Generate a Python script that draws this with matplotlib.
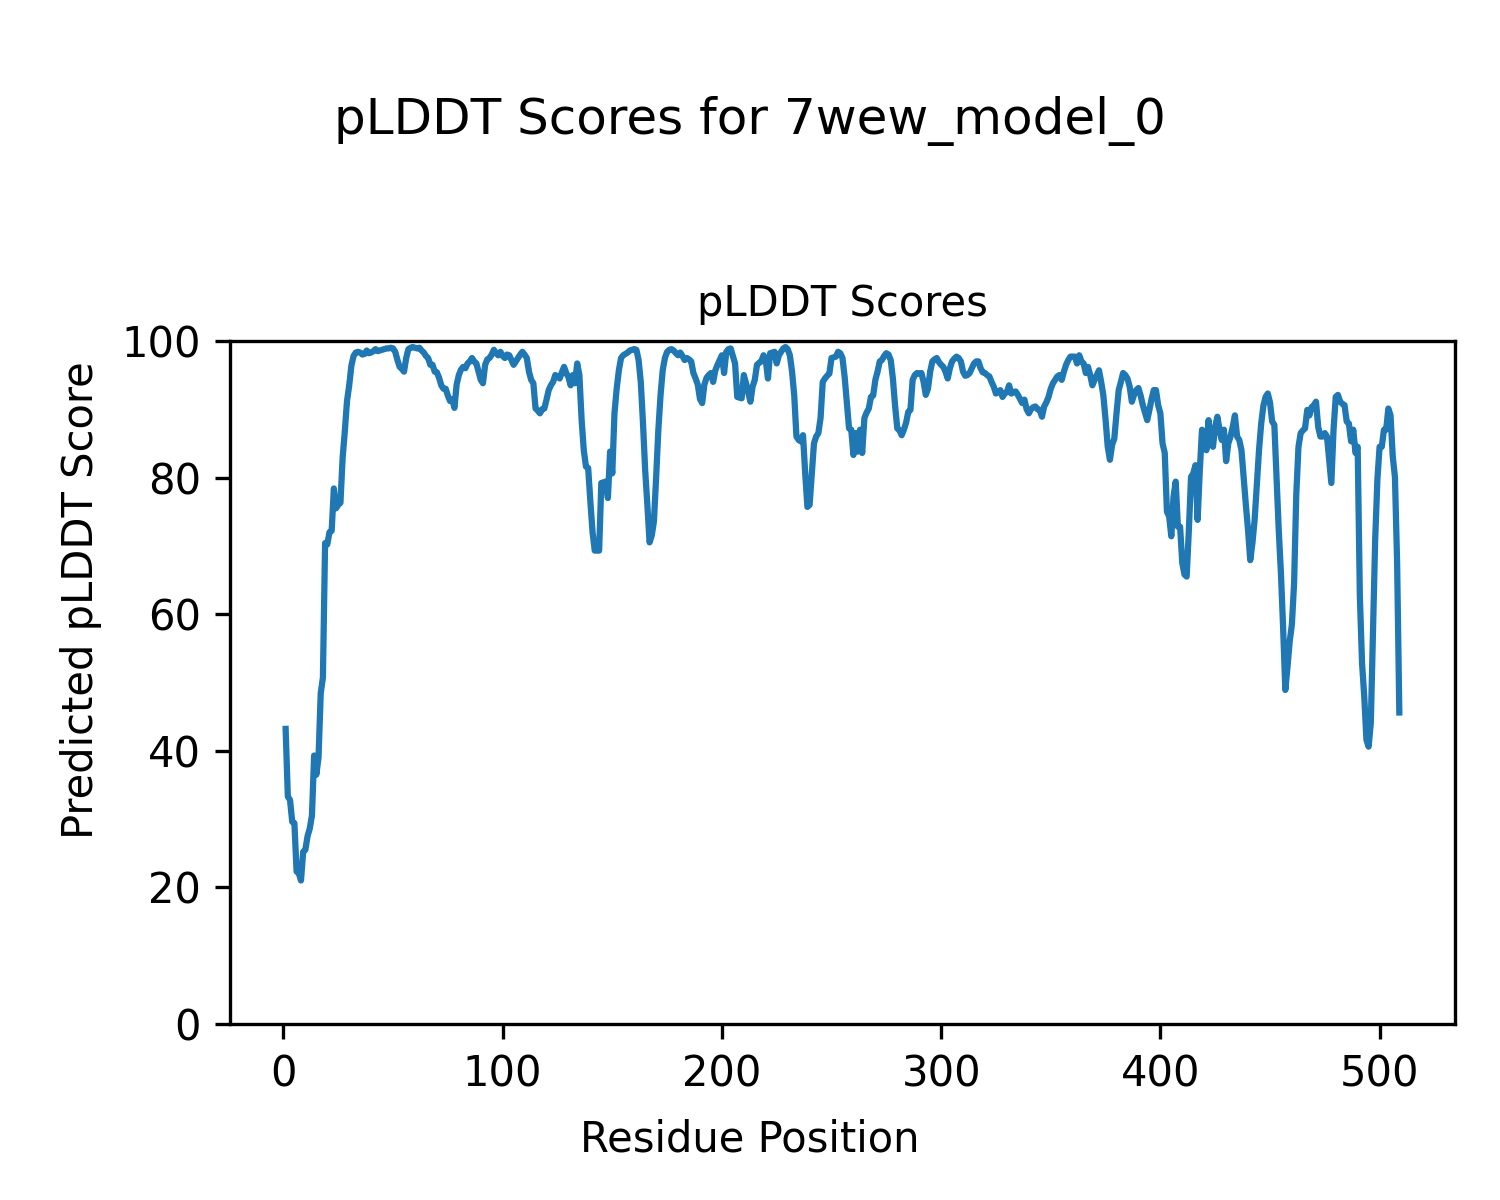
import numpy as np
import matplotlib
matplotlib.use('Agg')
import matplotlib.pyplot as plt

model_name = '7wew_model_0'

# per-residue pLDDT (residues 1..509)
plddt = [
    43.2, 33.3, 32.8, 29.6, 29.4, 22.3, 22.1, 21.0, 25.2, 25.5,
    27.5, 28.6, 30.5, 39.3, 36.5, 39.0, 48.4, 50.7, 70.4, 70.2,
    72.0, 72.2, 78.4, 75.5, 76.0, 76.3, 82.9, 86.8, 91.2, 93.5,
    96.4, 97.8, 98.3, 98.4, 98.3, 98.0, 98.1, 98.6, 98.2, 98.3,
    98.5, 98.8, 98.5, 98.6, 98.7, 98.8, 98.9, 98.9, 99.0,
    98.9, 98.4, 97.2, 96.2, 95.9, 95.5, 97.5, 98.8, 99.0, 99.1,
    99.0, 98.9, 99.0, 98.6, 98.3, 97.8, 97.5, 96.5, 96.5, 95.5,
    95.4, 94.6, 93.5, 93.0, 93.0, 92.0, 91.2, 91.5, 90.2, 93.6,
    95.0, 95.8, 96.2, 96.0, 96.7, 97.0, 97.5, 97.0, 96.7, 95.5,
    94.3, 93.8, 96.5, 97.3, 97.5, 98.0, 98.7, 98.2, 97.9, 98.4,
    97.8, 97.5, 98.0, 97.9, 97.2, 96.5, 97.0, 97.5, 98.0, 98.4,
    98.0, 97.5, 95.5, 94.3, 93.8, 90.1, 89.8, 89.4, 90.0, 90.1,
    91.4, 92.8, 93.5, 94.0, 95.0, 94.8, 94.5, 95.4, 96.2, 95.3,
    94.7, 93.5, 95.0, 93.8, 96.7, 95.0, 88.5, 84.0, 81.6, 81.4,
    76.5, 72.0, 69.3, 69.3, 69.3, 79.2, 79.3, 79.4, 77.0, 83.8,
    80.6, 89.4, 93.0, 95.7, 97.5, 97.9, 98.1, 98.3, 98.6, 98.7,
    98.8, 98.7, 97.2, 94.0, 88.0, 81.1, 76.0, 70.5, 71.5, 73.6,
    80.0, 86.9, 92.0, 95.7, 97.5, 98.4, 98.7, 98.8, 98.6, 98.2,
    97.9, 98.3, 97.8, 97.2, 97.5, 97.3, 97.0, 95.3, 94.5, 93.6,
    91.5, 90.9, 93.6, 94.6, 95.0, 95.3, 94.0, 95.7, 96.5, 97.2,
    97.9, 95.3, 98.4, 98.8, 98.9, 97.8, 96.7, 91.8, 91.7, 91.6,
    95.0, 93.8, 92.5, 91.1, 93.3, 94.3, 96.5, 96.8, 97.0, 97.9,
    97.2, 94.5, 98.2, 98.3, 98.4, 96.7, 97.9, 98.4, 98.9, 99.1,
    98.8, 97.9, 95.5, 92.0, 86.0, 85.5, 85.3, 86.2, 80.6, 75.7,
    76.0, 80.6, 85.0, 86.0, 86.5, 88.7, 94.0, 94.5, 94.9, 95.2,
    97.5, 97.6, 97.7, 98.4, 98.2, 97.5, 94.7, 91.0, 87.2, 87.0,
    83.3, 86.5, 83.8, 87.0, 83.6, 88.7, 89.5, 90.1, 91.8, 92.0,
    94.3, 95.5, 97.0, 97.2, 97.8, 98.2, 98.0, 97.2, 94.5, 90.5,
    87.2, 86.9, 86.2, 87.0, 88.0, 89.6, 89.9, 94.3, 95.0, 95.3,
    95.2, 95.3, 94.0, 92.1, 93.0, 95.5, 97.0, 97.3, 97.5, 96.9,
    96.5, 96.2, 95.5, 94.5, 96.0, 97.0, 97.4, 97.7, 97.5, 97.0,
    95.5, 94.9, 95.0, 95.3, 96.0, 96.7, 97.0, 97.0, 96.0, 95.4,
    95.3, 95.0, 94.8, 94.0, 93.3, 92.3, 92.5, 92.8, 91.8, 92.3,
    92.5, 93.5, 92.3, 92.5, 92.6, 92.1, 91.5, 90.9, 91.4, 90.0,
    89.4, 90.0, 90.3, 90.4, 90.0, 89.9, 88.9, 90.4, 91.0, 91.8,
    93.0, 93.8, 94.3, 94.8, 95.0, 94.3, 95.5, 96.5, 97.2, 97.7,
    97.7, 97.7, 96.7, 97.9, 97.0, 96.7, 95.3, 96.2, 95.0, 93.5,
    94.3, 95.0, 95.7, 94.0, 92.0, 88.5, 84.5, 82.6, 84.8, 85.7,
    89.4, 92.8, 94.0, 95.3, 95.0, 94.5, 93.3, 91.1, 92.1, 92.8,
    93.1, 92.0, 90.6, 89.5, 88.4, 89.9, 91.5, 92.8, 92.8, 90.6,
    89.4, 85.0, 83.6, 75.0, 74.3, 71.4, 77.2, 79.4, 72.8, 72.8,
    67.5, 65.8, 65.5, 72.3, 80.1, 80.6, 81.8, 73.8, 81.1, 87.0,
    86.0, 84.0, 88.4, 85.0, 84.5, 87.4, 88.9, 87.0, 85.5, 87.0,
    82.4, 85.0, 86.0, 87.4, 89.1, 86.0, 85.5, 84.0, 80.0, 76.0,
    72.3, 67.9, 70.4, 73.8, 79.0, 84.0, 87.9, 90.5, 91.8, 92.3,
    91.0, 88.2, 87.7, 80.0, 72.3, 66.0, 58.0, 48.9, 52.3, 56.0,
    58.5, 64.5, 77.5, 84.5, 86.5, 86.9, 87.2, 89.9, 89.1, 90.3,
    90.6, 91.1, 87.4, 86.0, 86.0, 86.5, 86.0, 82.6, 79.2, 87.0,
    91.8, 92.1, 91.1, 90.8, 90.6, 88.2, 87.9, 85.3, 87.0, 83.6,
    84.5, 62.6, 52.8, 48.0, 41.6, 40.6, 44.1, 57.7, 71.0, 79.7,
    84.5, 84.5, 87.0, 87.0, 90.1, 89.1, 83.1, 80.1, 67.5, 45.6,
]

residues = np.arange(1, len(plddt) + 1)

fig = plt.figure(figsize=(5, 4), dpi=300)
ax = fig.add_axes([0.1533, 0.1467, 0.8167, 0.5692])
ax.plot(residues, plddt)
ax.set_ylim(0, 100)
ax.set_title('pLDDT Scores', fontsize=10)
fig.suptitle(f'pLDDT Scores for {model_name}', y=0.92)
fig.text(0.5, 0.04, 'Residue Position', ha='center')
fig.text(0.04, 0.5, 'Predicted pLDDT Score', va='center', rotation='vertical')

fig.savefig('out.png', dpi=300)
